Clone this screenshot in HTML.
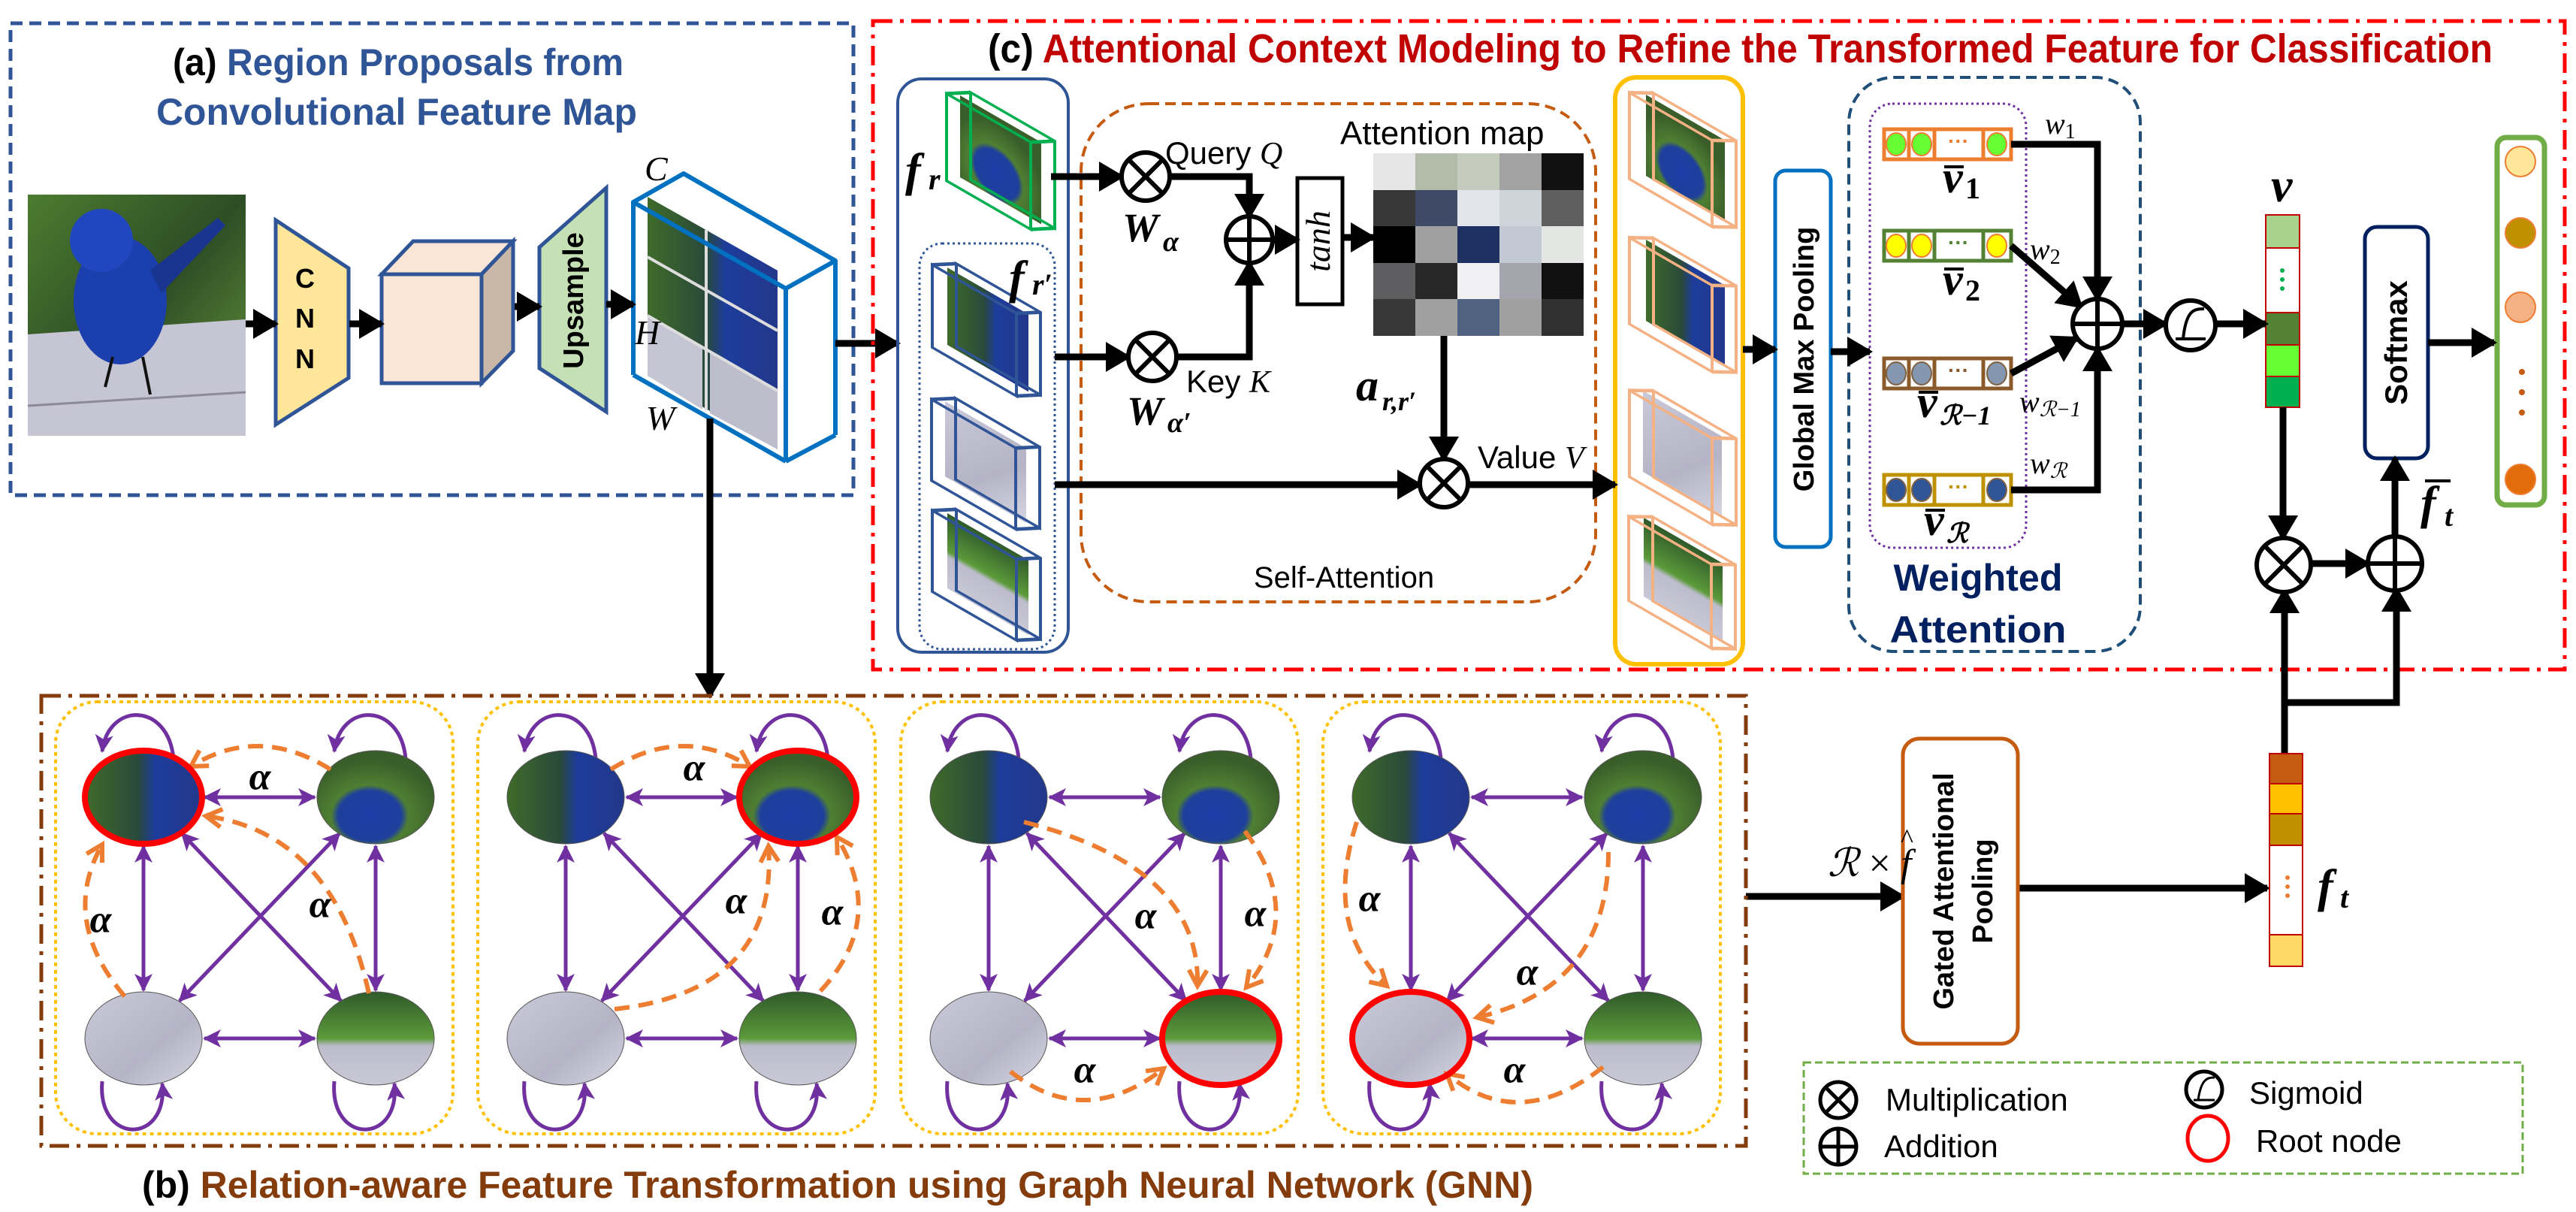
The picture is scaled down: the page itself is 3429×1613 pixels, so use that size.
<!DOCTYPE html>
<html><head><meta charset="utf-8"><style>html,body{margin:0;padding:0;background:#fff}svg{display:block}</style></head>
<body>
<svg xmlns="http://www.w3.org/2000/svg" width="3429" height="1613" viewBox="0 0 3429 1613">
<defs>
<marker id="ah" markerUnits="userSpaceOnUse" markerWidth="34" markerHeight="40" refX="30" refY="20" orient="auto"><path d="M0,0 L34,20 L0,40 z" fill="#000"/></marker>
<marker id="pa" markerUnits="userSpaceOnUse" markerWidth="24" markerHeight="24" refX="22" refY="12" orient="auto-start-reverse"><path d="M0,0 L24,12 L0,24 L6,12 z" fill="#7030A0"/></marker>
<marker id="oa" markerUnits="userSpaceOnUse" markerWidth="30" markerHeight="30" refX="24" refY="15" orient="auto"><path d="M3,3 L24,15 L3,27" fill="none" stroke="#ED7D31" stroke-width="6"/></marker>
<linearGradient id="gA" x1="0" y1="0" x2="1" y2="0"><stop offset="0" stop-color="#3f6b2a"/><stop offset="0.45" stop-color="#2a4a3a"/><stop offset="0.6" stop-color="#1d3c9c"/><stop offset="1" stop-color="#23388a"/></linearGradient>
<radialGradient id="gB" cx="0.45" cy="0.7" r="0.6"><stop offset="0" stop-color="#1d3ea8"/><stop offset="0.45" stop-color="#1f3f9c"/><stop offset="0.55" stop-color="#4f7f33"/><stop offset="1" stop-color="#3a5e2a"/></radialGradient>
<linearGradient id="gC" x1="0" y1="0" x2="1" y2="1"><stop offset="0" stop-color="#c9c9d9"/><stop offset="0.6" stop-color="#b5b4c6"/><stop offset="1" stop-color="#d6d5e2"/></linearGradient>
<linearGradient id="gD" x1="0" y1="0" x2="0" y2="1"><stop offset="0" stop-color="#2f5a2a"/><stop offset="0.5" stop-color="#5c9a3a"/><stop offset="0.58" stop-color="#bdbccc"/><stop offset="1" stop-color="#c9c8d6"/></linearGradient>
<linearGradient id="gBG" x1="0" y1="0" x2="1" y2="1"><stop offset="0" stop-color="#4c7c30"/><stop offset="0.5" stop-color="#2e4d25"/><stop offset="1" stop-color="#6a9a3e"/></linearGradient>
</defs>
<rect width="3429" height="1613" fill="#fff"/>

<!-- Box (a) -->
<rect x="14" y="31" width="1122" height="628" fill="none" stroke="#2F5597" stroke-width="5" stroke-dasharray="16 9"/>
<text x="530" y="100" text-anchor="middle" font-family="Liberation Sans" font-weight="bold" font-size="50" fill="#2F5597" textLength="600" lengthAdjust="spacingAndGlyphs"><tspan fill="#000">(a)</tspan> Region Proposals from</text>
<text x="528" y="166" text-anchor="middle" font-family="Liberation Sans" font-weight="bold" font-size="50" fill="#2F5597" textLength="640" lengthAdjust="spacingAndGlyphs">Convolutional Feature Map</text>

<!-- bird image -->
<rect x="37" y="259" width="290" height="321" fill="url(#gBG)"/>
<polygon points="37,445 327,425 327,580 37,580" fill="#c6c5d4"/>
<line x1="37" y1="540" x2="327" y2="522" stroke="#8c8a96" stroke-width="3"/>
<ellipse cx="160" cy="400" rx="62" ry="85" fill="#1c3fae"/>
<ellipse cx="135" cy="320" rx="42" ry="42" fill="#2147c0"/>
<path d="M200,360 L290,290 L300,300 L215,390 z" fill="#1a3590"/>
<path d="M150,475 L140,515 M190,475 L200,525" stroke="#111" stroke-width="4"/>

<!-- CNN -->
<polygon points="367,293 464,357 464,503 367,565" fill="#FFE699" stroke="#2F5597" stroke-width="5"/>
<g font-family="Liberation Sans" font-weight="bold" font-size="36" text-anchor="middle"><text x="406" y="383">C</text><text x="406" y="436">N</text><text x="406" y="490">N</text></g>
<!-- cube -->
<polygon points="508,365 550,321 683,321 641,365" fill="#FBE5D6" stroke="#2F5597" stroke-width="5"/>
<polygon points="641,365 683,321 683,467 641,510" fill="#C9B8A8" stroke="#2F5597" stroke-width="5"/>
<rect x="508" y="365" width="133" height="145" fill="#FBE5D6" stroke="#2F5597" stroke-width="5"/>
<!-- upsample -->
<polygon points="718,329 807,250 807,548 718,490" fill="#C5E0B4" stroke="#2F5597" stroke-width="5"/>
<text transform="translate(776,400) rotate(-90)" text-anchor="middle" font-family="Liberation Sans" font-weight="bold" font-size="38">Upsample</text>
<!-- feature map -->
<polygon points="862,262 1035,360 1035,598 862,500" fill="url(#gA)"/>
<polygon points="862,420 935,462 935,545 862,500" fill="#c6c5d4"/>
<polygon points="945,470 1035,520 1035,598 945,550" fill="#bebdcc"/>
<path d="M862,342 L1035,440 M940,306 L940,546 M862,420 L1035,520" stroke="#ddd" stroke-width="4" fill="none"/>
<g fill="none" stroke="#0070C0" stroke-width="6" stroke-linejoin="round">
<polygon points="843,269 910,231 1112,347 1046,384"/>
<line x1="843" y1="269" x2="843" y2="499"/><line x1="843" y1="499" x2="1046" y2="614"/>
<line x1="1046" y1="384" x2="1046" y2="614"/><line x1="1112" y1="347" x2="1112" y2="579"/><line x1="1046" y1="614" x2="1112" y2="579"/>
</g>
<g font-family="Liberation Serif" font-style="italic" font-size="46"><text x="858" y="240">C</text><text x="845" y="458">H</text><text x="860" y="572">W</text></g>

<!-- black arrows (a) -->
<g stroke="#000" stroke-width="9" fill="none" marker-end="url(#ah)">
<line x1="327" y1="431" x2="367" y2="431"/>
<line x1="465" y1="431" x2="508" y2="431"/>
<line x1="685" y1="408" x2="718" y2="408"/>
<line x1="807" y1="405" x2="843" y2="405"/>
<line x1="1112" y1="457" x2="1195" y2="457"/>
<line x1="945" y1="557" x2="945" y2="926"/>
</g>

<!-- Box (c) -->
<rect x="1162" y="28" width="2252" height="863" fill="none" stroke="#FF0000" stroke-width="5" stroke-dasharray="26 10 5 10"/>
<text x="1315" y="83" font-family="Liberation Sans" font-weight="bold" font-size="54" fill="#C00000" textLength="2003" lengthAdjust="spacingAndGlyphs"><tspan fill="#000">(c)</tspan> Attentional Context Modeling to Refine the Transformed Feature for Classification</text>

<rect x="1195" y="105" width="227" height="763" rx="32" fill="none" stroke="#2F5597" stroke-width="4"/>
<rect x="1224" y="324" width="180" height="540" rx="30" fill="none" stroke="#2F5597" stroke-width="3" stroke-dasharray="3 4"/>
<rect x="1439" y="138" width="685" height="663" rx="90" fill="none" stroke="#C55A11" stroke-width="4" stroke-dasharray="14 8"/>

<!-- blocks -->
<g transform="translate(1278,127) skewY(30)"><rect x="0" y="0" width="108" height="109" fill="url(#gB)"/><g fill="none" stroke="#00B050" stroke-width="4"><rect x="-18" y="8" width="112" height="116"/><rect x="14" y="-12" width="112" height="116"/><path d="M-18,8 L14,-12 M94,8 L126,-12 M94,124 L126,104"/></g></g>
<g transform="translate(1261,356) skewY(30)"><rect x="0" y="0" width="108" height="103" fill="url(#gA)"/><g fill="none" stroke="#2F5597" stroke-width="4"><rect x="-20" y="8" width="112" height="110"/><rect x="12" y="-12" width="112" height="110"/><path d="M-20,8 L12,-12 M92,8 L124,-12 M92,118 L124,98"/></g></g>
<g transform="translate(1258,534) skewY(30)"><rect x="0" y="0" width="108" height="100" fill="url(#gC)"/><g fill="none" stroke="#2F5597" stroke-width="4"><rect x="-18" y="8" width="112" height="108"/><rect x="14" y="-12" width="112" height="108"/><path d="M-18,8 L14,-12 M94,8 L126,-12 M94,116 L126,96"/></g></g>
<g transform="translate(1261,683) skewY(30)"><rect x="0" y="0" width="108" height="100" fill="url(#gD)"/><g fill="none" stroke="#2F5597" stroke-width="4"><rect x="-20" y="8" width="112" height="108"/><rect x="12" y="-12" width="112" height="108"/><path d="M-20,8 L12,-12 M92,8 L124,-12 M92,116 L124,96"/></g></g>

<g font-family="Liberation Serif" font-style="italic" font-weight="bold">
<text x="1205" y="247" font-size="62">f</text><text x="1236" y="252" font-size="40">r</text>
<text x="1343" y="390" font-size="62">f</text><text x="1374" y="392" font-size="40">r′</text>
<text x="1494" y="321" font-size="54">W</text><text x="1548" y="334" font-size="38">α</text>
<text x="1500" y="565" font-size="54">W</text><text x="1554" y="575" font-size="38">α′</text>
<text x="1805" y="533" font-size="60">a</text><text x="1840" y="546" font-size="36">r,r′</text>
</g>
<g font-family="Liberation Sans" font-size="42">
<text x="1551" y="218">Query <tspan font-family="Liberation Serif" font-style="italic">Q</tspan></text>
<text x="1579" y="522">Key <tspan font-family="Liberation Serif" font-style="italic">K</tspan></text>
<text x="1784" y="192" font-size="44">Attention map</text>
<text x="1967" y="623">Value <tspan font-family="Liberation Serif" font-style="italic">V</tspan></text>
<text x="1789" y="782" text-anchor="middle" font-size="40">Self-Attention</text>
</g>

<!-- tanh -->
<rect x="1727" y="237" width="60" height="168" fill="#fff" stroke="#000" stroke-width="5"/>
<text transform="translate(1770,321) rotate(-90)" text-anchor="middle" font-family="Liberation Serif" font-style="italic" font-size="46">tanh</text>
<!-- attention map -->
<g>
<rect x="1828" y="204" width="56" height="49" fill="#e6e6e6"/><rect x="1884" y="204" width="56" height="49" fill="#b3bba9"/><rect x="1940" y="204" width="56" height="49" fill="#c5cbbd"/><rect x="1996" y="204" width="56" height="49" fill="#a2a2a2"/><rect x="2052" y="204" width="56" height="49" fill="#111"/>
<rect x="1828" y="253" width="56" height="48" fill="#383838"/><rect x="1884" y="253" width="56" height="48" fill="#3e4a66"/><rect x="1940" y="253" width="56" height="48" fill="#e2e5ec"/><rect x="1996" y="253" width="56" height="48" fill="#cfd3da"/><rect x="2052" y="253" width="56" height="48" fill="#5f5f5f"/>
<rect x="1828" y="301" width="56" height="49" fill="#000"/><rect x="1884" y="301" width="56" height="49" fill="#a0a0a0"/><rect x="1940" y="301" width="56" height="49" fill="#1e3160"/><rect x="1996" y="301" width="56" height="49" fill="#c2c9d2"/><rect x="2052" y="301" width="56" height="49" fill="#e3e6e3"/>
<rect x="1828" y="350" width="56" height="48" fill="#5e5e60"/><rect x="1884" y="350" width="56" height="48" fill="#282828"/><rect x="1940" y="350" width="56" height="48" fill="#f0f0f3"/><rect x="1996" y="350" width="56" height="48" fill="#a4a4ac"/><rect x="2052" y="350" width="56" height="48" fill="#111"/>
<rect x="1828" y="398" width="56" height="49" fill="#383838"/><rect x="1884" y="398" width="56" height="49" fill="#a0a0a0"/><rect x="1940" y="398" width="56" height="49" fill="#4f6280"/><rect x="1996" y="398" width="56" height="49" fill="#a0a0a0"/><rect x="2052" y="398" width="56" height="49" fill="#303030"/>
</g>

<!-- yellow box + blocks -->
<rect x="2150" y="103" width="170" height="781" rx="28" fill="none" stroke="#FFC000" stroke-width="6"/>
<g transform="translate(2191,126) skewY(30)"><rect x="0" y="0" width="105" height="108" fill="url(#gB)"/><g fill="none" stroke="#F4B183" stroke-width="4"><rect x="-22" y="10" width="110" height="115"/><rect x="10" y="-8" width="110" height="115"/><path d="M-22,10 L10,-8 M88,10 L120,-8 M88,125 L120,107"/></g></g>
<g transform="translate(2191,319) skewY(30)"><rect x="0" y="0" width="105" height="108" fill="url(#gA)"/><g fill="none" stroke="#F4B183" stroke-width="4"><rect x="-22" y="10" width="110" height="115"/><rect x="10" y="-8" width="110" height="115"/><path d="M-22,10 L10,-8 M88,10 L120,-8 M88,125 L120,107"/></g></g>
<g transform="translate(2187,520) skewY(30)"><rect x="0" y="0" width="105" height="108" fill="url(#gC)"/><g fill="none" stroke="#F4B183" stroke-width="4"><rect x="-18" y="10" width="110" height="115"/><rect x="14" y="-8" width="110" height="115"/><path d="M-18,10 L14,-8 M92,10 L124,-8 M92,125 L124,107"/></g></g>
<g transform="translate(2188,689) skewY(30)"><rect x="0" y="0" width="105" height="105" fill="url(#gD)"/><g fill="none" stroke="#F4B183" stroke-width="4"><rect x="-20" y="10" width="110" height="112"/><rect x="12" y="-8" width="110" height="112"/><path d="M-20,10 L12,-8 M90,10 L122,-8 M90,122 L122,104"/></g></g>

<!-- GMP -->
<rect x="2363" y="227" width="74" height="501" rx="14" fill="#fff" stroke="#0070C0" stroke-width="5"/>
<text transform="translate(2414,478) rotate(-90)" text-anchor="middle" font-family="Liberation Sans" font-weight="bold" font-size="38">Global Max Pooling</text>

<!-- weighted attention -->
<rect x="2461" y="103" width="388" height="764" rx="60" fill="none" stroke="#1F4E79" stroke-width="4" stroke-dasharray="14 8"/>
<rect x="2489" y="138" width="208" height="591" rx="30" fill="none" stroke="#7030A0" stroke-width="3" stroke-dasharray="3 4"/>
<text x="2633" y="786" text-anchor="middle" font-family="Liberation Sans" font-weight="bold" font-size="50" fill="#002060" textLength="225" lengthAdjust="spacingAndGlyphs">Weighted</text>
<text x="2633" y="855" text-anchor="middle" font-family="Liberation Sans" font-weight="bold" font-size="50" fill="#002060" textLength="235" lengthAdjust="spacingAndGlyphs">Attention</text>

<!-- vectors -->
<g stroke-width="5">
<g stroke="#ED7D31"><rect x="2508" y="172" width="169" height="40" fill="#fff"/><path d="M2541,172 V212 M2575,172 V212 M2640,172 V212"/></g>
<g stroke="#ED7D31" stroke-width="2" fill="#66FF33"><ellipse cx="2524" cy="192" rx="13" ry="15"/><ellipse cx="2558" cy="192" rx="13" ry="15"/><ellipse cx="2658" cy="192" rx="13" ry="15"/></g>
<g stroke="#548235"><rect x="2508" y="307" width="169" height="40" fill="#fff"/><path d="M2541,307 V347 M2575,307 V347 M2640,307 V347"/></g>
<g stroke="#ED7D31" stroke-width="2" fill="#FFFF00"><ellipse cx="2524" cy="327" rx="13" ry="15"/><ellipse cx="2558" cy="327" rx="13" ry="15"/><ellipse cx="2658" cy="327" rx="13" ry="15"/></g>
<g stroke="#8B5A2B"><rect x="2508" y="477" width="169" height="40" fill="#fff"/><path d="M2541,477 V517 M2575,477 V517 M2640,477 V517"/></g>
<g stroke="#7f6040" stroke-width="2" fill="#8497B0"><ellipse cx="2524" cy="497" rx="13" ry="15"/><ellipse cx="2558" cy="497" rx="13" ry="15"/><ellipse cx="2658" cy="497" rx="13" ry="15"/></g>
<g stroke="#BF9000"><rect x="2508" y="632" width="169" height="40" fill="#fff"/><path d="M2541,632 V672 M2575,632 V672 M2640,632 V672"/></g>
<g stroke="#7f6040" stroke-width="2" fill="#2F5597"><ellipse cx="2524" cy="652" rx="13" ry="15"/><ellipse cx="2558" cy="652" rx="13" ry="15"/><ellipse cx="2658" cy="652" rx="13" ry="15"/></g>
</g>
<g font-family="Liberation Sans" font-weight="bold" font-size="28" text-anchor="middle"><text x="2607" y="197" fill="#ED7D31">···</text><text x="2607" y="332" fill="#548235">···</text><text x="2607" y="502" fill="#8B5A2B">···</text><text x="2607" y="657" fill="#BF9000">···</text></g>
<g font-family="Liberation Serif" font-style="italic" font-weight="bold">
<text x="2586" y="256" font-size="60">v</text><text x="2616" y="264" font-size="40" font-style="normal">1</text>
<text x="2586" y="392" font-size="60">v</text><text x="2616" y="400" font-size="40" font-style="normal">2</text>
<text x="2552" y="555" font-size="60">v</text><text x="2582" y="565" font-size="36">ℛ−1</text>
<text x="2561" y="712" font-size="60">v</text><text x="2591" y="722" font-size="36">ℛ</text>
</g>
<g stroke="#000" stroke-width="4"><line x1="2588" y1="222" x2="2614" y2="222"/><line x1="2588" y1="358" x2="2614" y2="358"/><line x1="2554" y1="522" x2="2580" y2="522"/><line x1="2563" y1="679" x2="2589" y2="679"/></g>
<g font-family="Liberation Serif" font-style="italic" font-size="40">
<text x="2722" y="178">w<tspan font-size="28" font-style="normal" dy="6">1</tspan></text>
<text x="2702" y="345">w<tspan font-size="28" font-style="normal" dy="6">2</tspan></text>
<text x="2688" y="548">w<tspan font-size="28" dy="6">ℛ−1</tspan></text>
<text x="2702" y="630">w<tspan font-size="28" dy="6">ℛ</tspan></text>
</g>

<!-- v vector -->
<g stroke="#C00000" stroke-width="2">
<rect x="3016" y="286" width="45" height="44" fill="#A9D18E"/>
<rect x="3016" y="330" width="45" height="86" fill="#fff"/>
<rect x="3016" y="416" width="45" height="43" fill="#548235"/>
<rect x="3016" y="459" width="45" height="42" fill="#66FF33"/>
<rect x="3016" y="501" width="45" height="41" fill="#00B050"/>
</g>
<g fill="#00B050"><circle cx="3038" cy="360" r="3"/><circle cx="3038" cy="372" r="3"/><circle cx="3038" cy="384" r="3"/></g>
<text x="3023" y="268" font-family="Liberation Serif" font-style="italic" font-weight="bold" font-size="64">v</text>

<!-- softmax / output -->
<rect x="3148" y="302" width="84" height="308" rx="16" fill="#fff" stroke="#002060" stroke-width="5"/>
<text transform="translate(3204,456) rotate(-90)" text-anchor="middle" font-family="Liberation Sans" font-weight="bold" font-size="42">Softmax</text>
<rect x="3324" y="183" width="63" height="489" rx="12" fill="#fff" stroke="#70AD47" stroke-width="7"/>
<g stroke="#ED7D31" stroke-width="2"><circle cx="3355" cy="215" r="20" fill="#FFE699"/><circle cx="3355" cy="310" r="20" fill="#BF9000"/><circle cx="3355" cy="409" r="20" fill="#F4B183"/><circle cx="3355" cy="638" r="20" fill="#E26B0A"/></g>
<g fill="#C55A11"><circle cx="3357" cy="495" r="4"/><circle cx="3357" cy="522" r="4"/><circle cx="3357" cy="549" r="4"/></g>
<g font-family="Liberation Serif" font-style="italic" font-weight="bold"><text x="3222" y="690" font-size="62">f</text><text x="3254" y="700" font-size="40">t</text></g>
<line x1="3228" y1="640" x2="3262" y2="640" stroke="#000" stroke-width="4"/>

<!-- arrows (c) -->
<g stroke="#000" stroke-width="9" fill="none" marker-end="url(#ah)">
<line x1="1399" y1="235" x2="1493" y2="235"/>
<polyline points="1557,235 1663,235 1663,288"/>
<line x1="1404" y1="475" x2="1502" y2="475"/>
<polyline points="1566,475 1663,475 1663,350"/>
<line x1="1694" y1="319" x2="1727" y2="319"/>
<line x1="1787" y1="316" x2="1828" y2="316"/>
<line x1="1922" y1="447" x2="1922" y2="611"/>
<line x1="1404" y1="645" x2="1890" y2="645"/>
<line x1="1954" y1="645" x2="2150" y2="645"/>
<line x1="2320" y1="465" x2="2363" y2="465"/>
<line x1="2437" y1="468" x2="2489" y2="468"/>
<polyline points="2677,192 2792,192 2792,398"/>
<line x1="2677" y1="327" x2="2770" y2="408"/>
<line x1="2677" y1="497" x2="2764" y2="450"/>
<polyline points="2677,652 2792,652 2792,464"/>
<line x1="2825" y1="431" x2="2883" y2="431"/>
<line x1="2949" y1="431" x2="3016" y2="431"/>
<line x1="3039" y1="542" x2="3039" y2="716"/>
<line x1="3076" y1="750" x2="3152" y2="750"/>
<line x1="3188" y1="716" x2="3188" y2="610"/>
<line x1="3232" y1="456" x2="3320" y2="456"/>
<line x1="3041" y1="1003" x2="3041" y2="786"/>
<polyline points="3041,935 3190,935 3190,784"/>
<line x1="2324" y1="1193" x2="2533" y2="1193"/>
<line x1="2686" y1="1182" x2="3018" y2="1182"/>
</g>

<!-- operator circles -->
<g fill="#fff" stroke="#000" stroke-width="6">
<g transform="translate(1525,235)"><circle r="32"/><path d="M-22,-22 L22,22 M22,-22 L-22,22"/></g>
<g transform="translate(1534,475)"><circle r="32"/><path d="M-22,-22 L22,22 M22,-22 L-22,22"/></g>
<g transform="translate(1922,643)"><circle r="32"/><path d="M-22,-22 L22,22 M22,-22 L-22,22"/></g>
<g transform="translate(1663,319)"><circle r="31"/><path d="M-31,0 H31 M0,-31 V31"/></g>
<g transform="translate(2792,431)"><circle r="33"/><path d="M-33,0 H33 M0,-33 V33"/></g>
<g transform="translate(3040,752)"><circle r="36"/><path d="M-25,-25 L25,25 M25,-25 L-25,25"/></g>
<g transform="translate(3188,750)"><circle r="36"/><path d="M-36,0 H36 M0,-36 V36"/></g>
<g transform="translate(2916,433)"><circle r="33"/><path d="M-20,18 H20 M-10,18 C-6,-20 4,-22 18,-22" fill="none" stroke-width="4"/></g>
</g>

<!-- Box (b) -->
<rect x="55" y="926" width="2269" height="599" fill="none" stroke="#843C0C" stroke-width="5" stroke-dasharray="26 10 5 10"/>
<text x="189" y="1594" font-family="Liberation Sans" font-weight="bold" font-size="50" fill="#843C0C" textLength="1852" lengthAdjust="spacingAndGlyphs"><tspan fill="#000">(b)</tspan> Relation-aware Feature Transformation using Graph Neural Network (GNN)</text>

<defs>
<g id="graph">
<rect x="0" y="0" width="529" height="575" rx="55" fill="none" stroke="#FFC000" stroke-width="4" stroke-dasharray="5 5"/>
<g fill="none" stroke="#7030A0" stroke-width="5" marker-end="url(#pa)">
<path d="M157,76 C150,0 70,0 62,66"/>
<path d="M466,76 C459,0 379,0 371,66"/>
<path d="M62,505 C55,590 150,590 142,508"/>
<path d="M371,505 C364,590 459,590 451,508"/>
</g>
<g stroke="#7030A0" stroke-width="5" marker-start="url(#pa)" marker-end="url(#pa)">
<line x1="198" y1="127" x2="345" y2="127"/><line x1="198" y1="448" x2="345" y2="448"/>
<line x1="117" y1="192" x2="117" y2="384"/><line x1="426" y1="192" x2="426" y2="384"/>
<line x1="168" y1="175" x2="380" y2="398"/><line x1="378" y1="175" x2="165" y2="398"/>
</g>
<ellipse cx="117" cy="127" rx="78" ry="62" fill="url(#gA)" stroke="#555" stroke-width="1"/>
<ellipse cx="426" cy="127" rx="78" ry="62" fill="url(#gB)" stroke="#555" stroke-width="1"/>
<ellipse cx="117" cy="448" rx="78" ry="62" fill="url(#gC)" stroke="#555" stroke-width="1"/>
<ellipse cx="426" cy="448" rx="78" ry="62" fill="url(#gD)" stroke="#555" stroke-width="1"/>
</g>
</defs>

<g font-family="Liberation Serif" font-style="italic" font-weight="bold" font-size="52" text-anchor="middle" dominant-baseline="central">
<g transform="translate(74,934)">
<use href="#graph"/>
<g fill="none" stroke="#ED7D31" stroke-width="6" stroke-dasharray="20 12" marker-end="url(#oa)">
<path d="M366,90 Q270,30 180,86"/><path d="M92,392 Q5,290 62,190"/><path d="M417,388 Q370,175 200,152"/></g>
<ellipse cx="117" cy="127" rx="78" ry="62" fill="none" stroke="#FF0000" stroke-width="8"/>
<text x="272" y="100">α</text><text x="60" y="290">α</text><text x="352" y="270">α</text>
</g>
<g transform="translate(636,934)">
<use href="#graph"/>
<g fill="none" stroke="#ED7D31" stroke-width="6" stroke-dasharray="20 12" marker-end="url(#oa)">
<path d="M177,90 Q272,30 362,86"/><path d="M456,385 Q545,290 478,180"/><path d="M182,409 Q400,385 387,192"/></g>
<ellipse cx="426" cy="127" rx="78" ry="62" fill="none" stroke="#FF0000" stroke-width="8"/>
<text x="288" y="88">α</text><text x="472" y="280">α</text><text x="344" y="265">α</text>
</g>
<g transform="translate(1199,934)">
<use href="#graph"/>
<g fill="none" stroke="#ED7D31" stroke-width="6" stroke-dasharray="20 12" marker-end="url(#oa)">
<path d="M146,492 Q245,570 350,488"/><path d="M458,172 Q540,282 460,380"/><path d="M164,160 Q400,220 395,378"/></g>
<ellipse cx="426" cy="448" rx="78" ry="62" fill="none" stroke="#FF0000" stroke-width="8"/>
<text x="245" y="490">α</text><text x="472" y="282">α</text><text x="326" y="285">α</text>
</g>
<g transform="translate(1761,934)">
<use href="#graph"/>
<g fill="none" stroke="#ED7D31" stroke-width="6" stroke-dasharray="20 12" marker-end="url(#oa)">
<path d="M373,486 Q260,575 165,495"/><path d="M45,160 Q0,300 85,378"/><path d="M380,200 Q380,380 205,420"/></g>
<ellipse cx="117" cy="448" rx="78" ry="62" fill="none" stroke="#FF0000" stroke-width="8"/>
<text x="255" y="490">α</text><text x="62" y="262">α</text><text x="272" y="360">α</text>
</g>
</g>

<!-- gated pooling -->
<rect x="2533" y="983" width="153" height="406" rx="22" fill="#fff" stroke="#C55A11" stroke-width="5"/>
<g font-family="Liberation Sans" font-weight="bold" font-size="38" text-anchor="middle">
<text transform="translate(2600,1186) rotate(-90)">Gated Attentional</text>
<text transform="translate(2652,1186) rotate(-90)">Pooling</text>
</g>
<text x="2433" y="1166" font-family="Liberation Serif" font-style="italic" font-size="52">ℛ <tspan font-style="normal">×</tspan> f</text>
<text x="2530" y="1128" font-family="Liberation Serif" font-size="36">^</text>

<!-- f_t vector -->
<g stroke="#C00000" stroke-width="2">
<rect x="3021" y="1003" width="44" height="40" fill="#C55A11"/>
<rect x="3021" y="1043" width="44" height="40" fill="#FFC000"/>
<rect x="3021" y="1083" width="44" height="42" fill="#BF9000"/>
<rect x="3021" y="1125" width="44" height="119" fill="#fff"/>
<rect x="3021" y="1244" width="44" height="42" fill="#FFD966"/>
</g>
<g fill="#ED7D31"><circle cx="3045" cy="1168" r="3"/><circle cx="3045" cy="1180" r="3"/><circle cx="3045" cy="1192" r="3"/></g>
<g font-family="Liberation Serif" font-style="italic" font-weight="bold"><text x="3085" y="1200" font-size="62">f</text><text x="3115" y="1208" font-size="40">t</text></g>

<!-- legend -->
<rect x="2401" y="1414" width="957" height="148" fill="none" stroke="#70AD47" stroke-width="3" stroke-dasharray="10 5"/>
<g fill="#fff" stroke="#000" stroke-width="5">
<g transform="translate(2447,1464)"><circle r="24"/><path d="M-17,-17 L17,17 M17,-17 L-17,17"/></g>
<g transform="translate(2447,1526)"><circle r="24"/><path d="M-24,0 H24 M0,-24 V24"/></g>
<g transform="translate(2934,1450)"><circle r="24"/><path d="M-14,14 H14 M-8,14 C-4,-14 4,-16 14,-16" fill="none" stroke-width="3"/></g>
</g>
<ellipse cx="2939" cy="1515" rx="27" ry="30" fill="none" stroke="#FF0000" stroke-width="5"/>
<g font-family="Liberation Sans" font-size="42">
<text x="2510" y="1478">Multiplication</text>
<text x="2508" y="1540">Addition</text>
<text x="2994" y="1469">Sigmoid</text>
<text x="3003" y="1533">Root node</text>
</g>
</svg>
</body></html>
